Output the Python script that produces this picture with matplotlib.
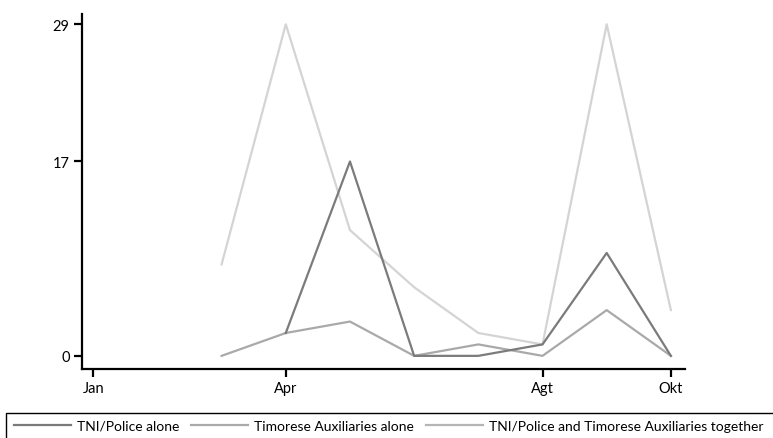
import matplotlib
matplotlib.use("Agg")
import matplotlib.pyplot as plt
from matplotlib.patches import Rectangle
from matplotlib.lines import Line2D

plt.rcParams['font.family'] = ['Lato', 'DejaVu Sans']

# Month numbers (Jan = 1) and monthly counts per perpetrator group
months = [3, 4, 5, 6, 7, 8, 9, 10]
tni_months = [4, 5, 6, 7, 8, 9, 10]
tni_police_alone = [2, 17, 0, 0, 1, 9, 0]
auxiliaries_alone = [0, 2, 3, 0, 1, 0, 4, 0]
together = [8, 29, 11, 6, 2, 1, 29, 4]

tick_months = [1, 4, 8, 10]
tick_labels = ["Jan", "Apr", "Agt", "Okt"]
y_ticks = [0, 17, 29]

series_labels = ["TNI/Police alone",
                 "Timorese Auxiliaries alone",
                 "TNI/Police and Timorese Auxiliaries together"]
colors = ["#7b7b7b", "#a9a9a9", "#d4d4d4"]
legend_colors = ["#7b7b7b", "#a9a9a9", "#b3b5b8"]

W, H = 773, 439
fig = plt.figure(figsize=(W / 100, H / 100), dpi=100)
ax = fig.add_axes([82 / W, (H - 370) / H, (685 - 82) / W, (370 - 15) / H])

ax.plot(months, together, color=colors[2], lw=1.6, zorder=2)
ax.plot(months, auxiliaries_alone, color=colors[1], lw=1.6, zorder=3)
ax.plot(tni_months, tni_police_alone, color=colors[0], lw=1.6, zorder=4)

ax.set_xlim(0.825, 10.22)
ax.set_ylim(-1.15, 29.9)
ax.set_xticks(tick_months)
ax.set_xticklabels(tick_labels)
ax.set_yticks(y_ticks)
ax.set_yticklabels([str(v) for v in y_ticks])

for side in ("top", "right"):
    ax.spines[side].set_visible(False)
for side in ("left", "bottom"):
    ax.spines[side].set_linewidth(1.6)
    ax.spines[side].set_color("black")
ax.tick_params(axis="both", direction="out", length=6, width=1.6,
               labelsize=10.5, colors="black", pad=3)

# Legend strip along the bottom edge
fig.patches.append(Rectangle((6 / W, -0.01), 1.0, (H - 414) / H + 0.01,
                             transform=fig.transFigure, fill=False,
                             edgecolor="black", lw=1.0))
handles = [Line2D([], [], color=c, lw=1.6) for c in legend_colors]
fig.legend(handles, series_labels, ncol=3, frameon=False,
           loc="center left", bbox_to_anchor=(14 / W, (H - 427) / H),
           fontsize=10, handlelength=4.1, handletextpad=0.43,
           columnspacing=0.86, borderaxespad=0, borderpad=0)

fig.savefig("out.png", dpi=100)
